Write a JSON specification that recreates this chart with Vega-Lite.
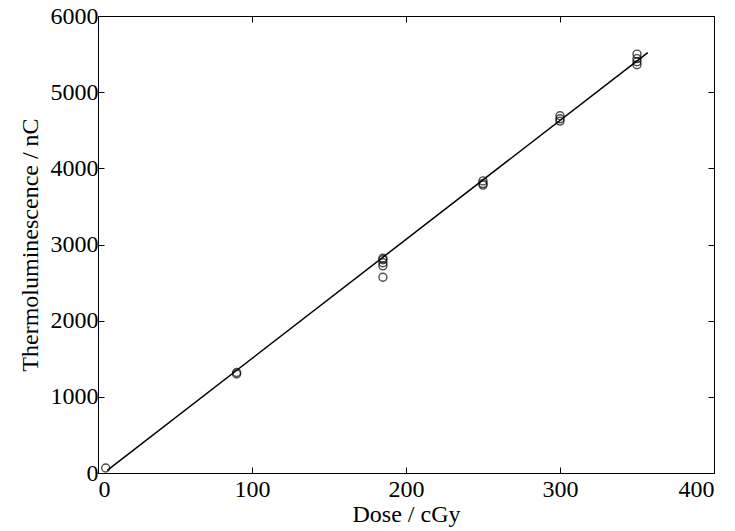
{
  "$schema": "https://vega.github.io/schema/vega-lite/v6.json",
  "width": 616,
  "height": 457,
  "autosize": {"type": "none"},
  "padding": {"left": 98, "top": 16, "right": 21, "bottom": 58},
  "background": "white",
  "config": {
    "view": {"stroke": "black", "strokeWidth": 1},
    "axis": {
      "grid": false,
      "domain": false,
      "tickColor": "black",
      "tickSize": -6,
      "labelFont": "Liberation Serif",
      "labelFontSize": 24,
      "labelColor": "black",
      "titleFont": "Liberation Serif",
      "titleFontSize": 24,
      "titleFontWeight": "normal",
      "titleColor": "black",
      "format": "d"
    }
  },
  "datasets": {
    "pts": [
      {"dose": 5, "tl": 65},
      {"dose": 90, "tl": 1300},
      {"dose": 90, "tl": 1320},
      {"dose": 185, "tl": 2570},
      {"dose": 185, "tl": 2720},
      {"dose": 185, "tl": 2760},
      {"dose": 185, "tl": 2800},
      {"dose": 185, "tl": 2820},
      {"dose": 250, "tl": 3780},
      {"dose": 250, "tl": 3800},
      {"dose": 250, "tl": 3835},
      {"dose": 300, "tl": 4620},
      {"dose": 300, "tl": 4650},
      {"dose": 300, "tl": 4690},
      {"dose": 350, "tl": 5360},
      {"dose": 350, "tl": 5400},
      {"dose": 350, "tl": 5440},
      {"dose": 350, "tl": 5500}
    ],
    "fit": [
      {"dose": 6, "tl": 35},
      {"dose": 357, "tl": 5520}
    ]
  },
  "layer": [
    {
      "data": {"name": "fit"},
      "mark": {"type": "line", "color": "black", "strokeWidth": 1.5},
      "encoding": {
        "x": {"field": "dose", "type": "quantitative", "scale": {"domain": [0, 400], "nice": false},
              "axis": {"orient": "bottom", "values": [0, 100, 200, 300, 400], "title": "Dose / cGy", "labelPadding": 10, "titlePadding": 1}},
        "y": {"field": "tl", "type": "quantitative", "scale": {"domain": [0, 6000], "nice": false},
              "axis": {"orient": "left", "values": [0, 1000, 2000, 3000, 4000, 5000, 6000], "title": "Thermoluminescence / nC", "labelPadding": 6, "titlePadding": 8}}
      }
    },
    {
      "data": {"name": "pts"},
      "mark": {"type": "point", "shape": "circle", "filled": false, "color": "black", "strokeWidth": 1.4, "size": 64},
      "encoding": {
        "x": {"field": "dose", "type": "quantitative",
              "axis": {"orient": "top", "values": [0, 100, 200, 300, 400], "labels": false, "title": null}},
        "y": {"field": "tl", "type": "quantitative",
              "axis": {"orient": "right", "values": [0, 1000, 2000, 3000, 4000, 5000, 6000], "labels": false, "title": null}}
      }
    }
  ],
  "resolve": {"axis": {"x": "independent", "y": "independent"}}
}
